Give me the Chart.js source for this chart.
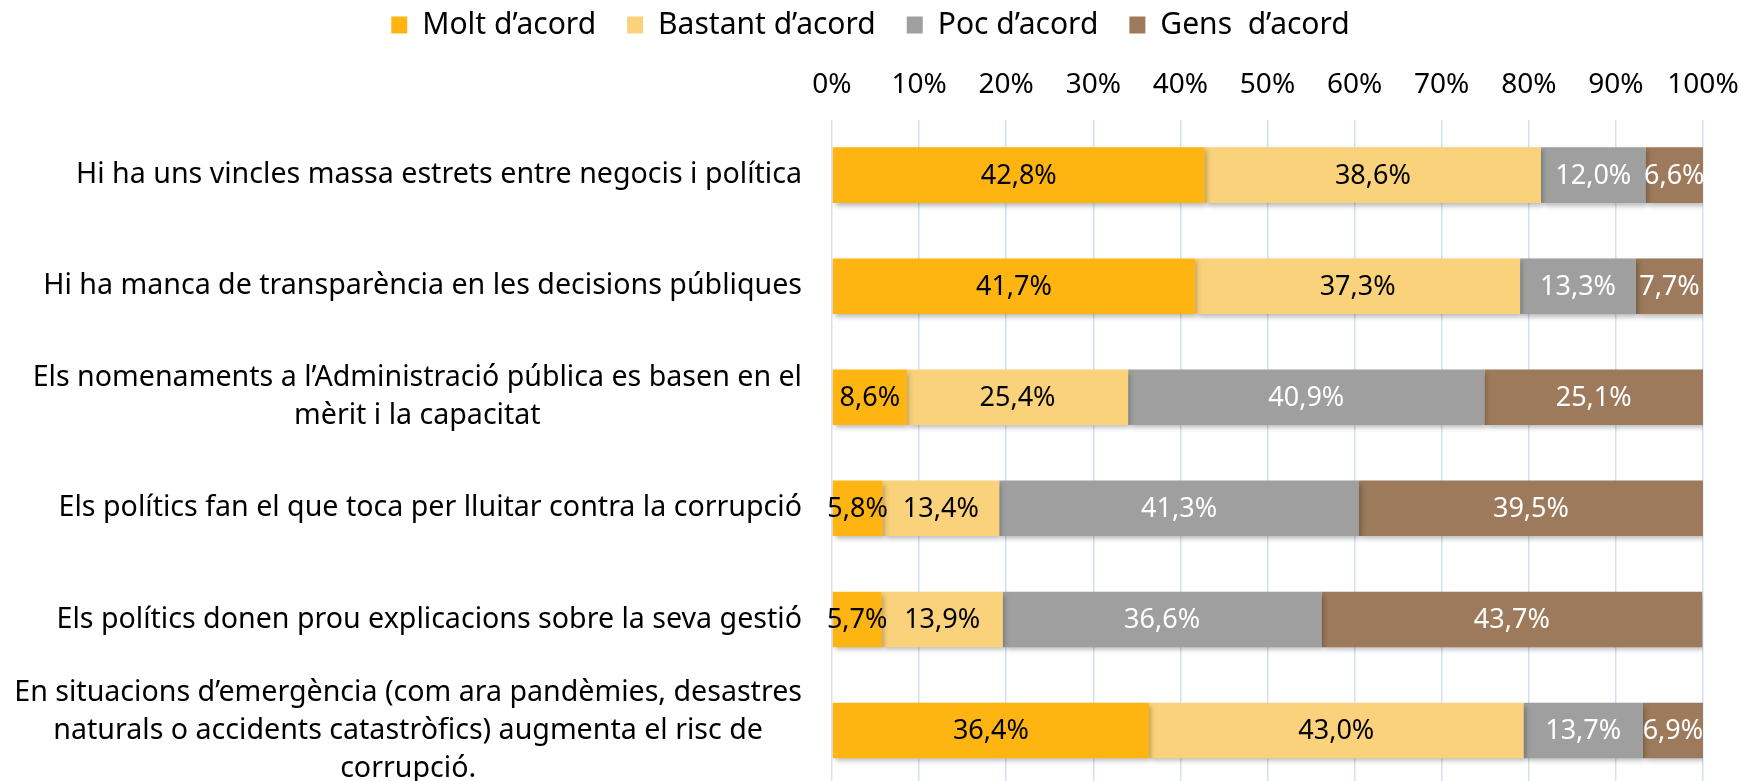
<!DOCTYPE html>
<html>
<head>
<meta charset="utf-8">
<script src="https://cdn.jsdelivr.net/npm/chart.js@4.4.1/dist/chart.umd.min.js"></script>
<style>
  html, body { margin: 0; padding: 0; background: #fff; overflow: hidden; }
  #wrap { width: 1741px; height: 786px; position: relative; }
</style>
</head>
<body>
<div id="wrap"><canvas id="chart"></canvas></div>
<script>
// statements (one array of lines per bar)
const statements = [
  ['Hi ha uns vincles massa estrets entre negocis i política'],
  ['Hi ha manca de transparència en les decisions públiques'],
  ['Els nomenaments a l’Administració pública es basen en el', 'mèrit i la capacitat'],
  ['Els polítics fan el que toca per lluitar contra la corrupció'],
  ['Els polítics donen prou explicacions sobre la seva gestió'],
  ['En situacions d’emergència (com ara pandèmies, desastres', 'naturals o accidents catastròfics) augmenta el risc de', 'corrupció.']
];

const seriesNames = ['Molt d’acord', 'Bastant d’acord', 'Poc d’acord', 'Gens  d’acord'];
const moltAcord    = [42.8, 41.7, 8.6, 5.8, 5.7, 36.4];
const bastantAcord = [38.6, 37.3, 25.4, 13.4, 13.9, 43.0];
const pocAcord     = [12.0, 13.3, 40.9, 41.3, 36.6, 13.7];
const gensAcord    = [6.6, 7.7, 25.1, 39.5, 43.7, 6.9];

const colors = ['#FFB511', '#FAD27B', '#9F9F9F', '#9C7A5B'];
const labelColors = ['#000', '#000', '#fff', '#fff'];

const FONT = '"Noto Sans", sans-serif';
Chart.defaults.font.family = FONT;
Chart.defaults.color = '#000';

const fmt = v => v.toFixed(1).replace('.', ',') + '%';

// bar shadow + value labels
const barLabels = {
  id: 'barLabels',
  beforeDatasetsDraw(chart) {
    const ctx = chart.ctx;
    ctx.save();
    ctx.shadowColor = 'rgba(0,0,0,0.28)';
    ctx.shadowBlur = 5;
    ctx.shadowOffsetX = 2;
    ctx.shadowOffsetY = 3;
  },
  afterDatasetsDraw(chart) {
    const ctx = chart.ctx;
    ctx.restore();
    ctx.save();
    ctx.font = '27px ' + FONT;
    ctx.textAlign = 'center';
    ctx.textBaseline = 'middle';
    chart.data.datasets.forEach((ds, i) => {
      const meta = chart.getDatasetMeta(i);
      ctx.fillStyle = labelColors[i];
      meta.data.forEach((el, j) => {
        ctx.fillText(fmt(ds.data[j]), (el.x + el.base) / 2, el.y + 1);
      });
    });
    ctx.restore();
  }
};

// category labels: right aligned block, lines centred inside it
const yLabels = {
  id: 'yLabels',
  afterDraw(chart) {
    const ctx = chart.ctx;
    const y = chart.scales.y;
    const right = chart.chartArea.left - 30;
    ctx.save();
    ctx.font = '28.6px ' + FONT;
    ctx.fillStyle = '#000';
    ctx.textAlign = 'center';
    ctx.textBaseline = 'middle';
    statements.forEach((lines, i) => {
      const w = Math.max(...lines.map(l => ctx.measureText(l).width));
      const cx = right - w / 2;
      const cy = y.getPixelForValue(i);
      lines.forEach((l, k) => {
        ctx.fillText(l, cx, cy + (k - (lines.length - 1) / 2) * 38);
      });
    });
    ctx.restore();
  }
};

new Chart(document.getElementById('chart'), {
  type: 'bar',
  data: {
    labels: statements.map(s => s.join(' ')),
    datasets: [moltAcord, bastantAcord, pocAcord, gensAcord].map((d, i) => ({
      label: seriesNames[i],
      data: d,
      backgroundColor: colors[i],
      borderWidth: 0,
      barPercentage: 0.5,
      categoryPercentage: 1
    }))
  },
  options: {
    indexAxis: 'y',
    responsive: true,
    maintainAspectRatio: false,
    animation: false,
    layout: { padding: { top: -21, right: 0, bottom: 0, left: 0 } },
    plugins: {
      legend: {
        position: 'top',
        maxHeight: 92,
        labels: {
          boxWidth: 16,
          boxHeight: 17,
          padding: 31,
          font: { size: 30 },
          color: '#000'
        }
      },
      tooltip: { enabled: false }
    },
    scales: {
      x: {
        position: 'top',
        stacked: true,
        min: 0,
        max: 100,
        ticks: {
          stepSize: 10,
          padding: 18,
          font: { size: 28 },
          color: '#000',
          callback: v => v + '%'
        },
        grid: { color: '#D5E1F2', lineWidth: 1.5, drawTicks: false },
        border: { display: false },
        afterFit(scale) { scale.paddingRight = 38; scale.paddingLeft = 0; }
      },
      y: {
        stacked: true,
        ticks: { display: false },
        grid: { display: false },
        border: { display: false },
        afterFit(scale) { scale.width = 832; }
      }
    }
  },
  plugins: [barLabels, yLabels]
});
</script>
</body>
</html>
